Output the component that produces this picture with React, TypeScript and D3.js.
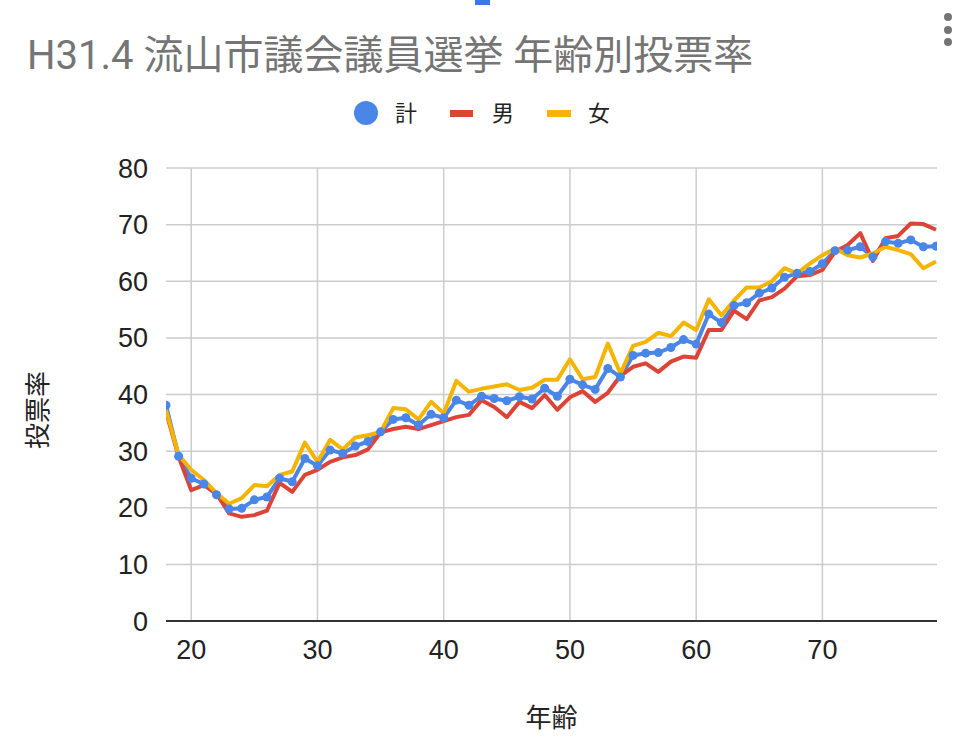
import React, { useEffect, useRef } from "react";
import * as d3 from "d3";

// ages 18..79
const ages: number[] = d3.range(18, 80);

const totalRate: number[] = [
  38.1, 29.1, 25.2, 24.2, 22.3, 19.8, 19.9, 21.4, 21.9, 25.2,
  24.6, 28.7, 27.4, 30.2, 29.6, 30.9, 31.7, 33.4, 35.6, 35.9,
  34.6, 36.5, 35.9, 39.0, 38.1, 39.7, 39.3, 38.9, 39.6, 39.2,
  41.1, 39.7, 42.7, 41.7, 40.9, 44.6, 43.1, 46.9, 47.3, 47.4,
  48.3, 49.7, 48.9, 54.2, 52.7, 55.7, 56.2, 57.9, 58.8, 60.7,
  61.4, 61.7, 63.1, 65.4, 65.5, 66.1, 64.3, 67.0, 66.7, 67.3,
  66.1, 66.2,
];

const maleRate: number[] = [
  37.0, 29.0, 23.1, 24.0, 22.5, 19.0, 18.4, 18.7, 19.5, 24.4,
  22.8, 25.8, 26.7, 28.1, 28.9, 29.3, 30.3, 33.3, 33.9, 34.3,
  33.9, 34.6, 35.3, 36.0, 36.4, 39.0, 37.8, 36.0, 38.7, 37.6,
  39.9, 37.3, 39.5, 40.6, 38.7, 40.3, 43.3, 44.9, 45.5, 44.0,
  45.8, 46.7, 46.5, 51.4, 51.4, 54.8, 53.3, 56.6, 57.2, 58.7,
  60.9, 61.1, 62.0, 65.2, 66.4, 68.5, 63.6, 67.6, 68.0, 70.2,
  70.1, 69.1,
];

const femaleRate: number[] = [
  37.3, 29.3, 26.7, 24.9, 22.6, 20.7, 21.7, 24.0, 23.8, 25.8,
  26.4, 31.5, 28.1, 32.0, 30.3, 32.4, 32.8, 33.4, 37.6, 37.4,
  35.6, 38.7, 36.7, 42.4, 40.5, 41.0, 41.4, 41.8, 40.8, 41.2,
  42.6, 42.6, 46.2, 42.7, 43.1, 49.0, 43.7, 48.6, 49.3, 50.9,
  50.3, 52.7, 51.4, 56.8, 54.0, 56.6, 58.9, 58.9, 60.0, 62.3,
  61.4, 63.1, 64.6, 65.8, 64.6, 64.2, 64.9, 66.1, 65.5, 64.8,
  62.3, 63.5,
];

const xTicks = [20, 30, 40, 50, 60, 70];
const yTicks = [0, 10, 20, 30, 40, 50, 60, 70, 80];

const seriesNames = ["計", "男", "女"];
const colors = ["#4a86e8", "#db4437", "#f4b400"];

const title = "H31.4 流山市議会議員選挙 年齢別投票率";
const xTitle = "年齢";
const yTitle = "投票率";

const FONT = "Roboto, 'Noto Sans CJK JP', sans-serif";
const TICK_FONT = "'Liberation Sans', Arial, 'Noto Sans CJK JP', sans-serif";

const App: React.FC = () => {
  const svgRef = useRef<SVGSVGElement | null>(null);

  useEffect(() => {
    document.body.style.margin = "0";
    if (!svgRef.current) return;

    const width = 968;
    const height = 744;
    const margin = { top: 168, right: 31, bottom: 123, left: 166 };
    const plotW = width - margin.left - margin.right;
    const plotH = height - margin.top - margin.bottom;

    const svg = d3.select(svgRef.current);
    svg.selectAll("*").remove();
    svg.attr("width", width).attr("height", height);

    svg.append("rect").attr("width", width).attr("height", height).attr("fill", "#fff");

    // little handle at the top and the menu dots
    svg.append("rect").attr("x", 475).attr("y", 0).attr("width", 15).attr("height", 5).attr("fill", "#3b78e7");
    svg
      .selectAll("circle.menu")
      .data([17, 30, 42])
      .enter()
      .append("circle")
      .attr("class", "menu")
      .attr("cx", 948)
      .attr("cy", (d) => d)
      .attr("r", 4)
      .attr("fill", "#757575");

    // title
    svg
      .append("text")
      .attr("x", 27)
      .attr("y", 69)
      .attr("font-family", FONT)
      .attr("font-size", 40)
      .attr("fill", "#757575")
      .text(title);

    // legend
    const legend = svg.append("g").attr("font-family", FONT).attr("font-size", 22).attr("fill", "#222");
    legend.append("circle").attr("cx", 366).attr("cy", 113).attr("r", 12).attr("fill", colors[0]);
    legend.append("text").attr("x", 395).attr("y", 121).text(seriesNames[0]);
    legend.append("rect").attr("x", 450).attr("y", 110).attr("width", 23).attr("height", 7).attr("fill", colors[1]);
    legend.append("text").attr("x", 492).attr("y", 121).text(seriesNames[1]);
    legend.append("rect").attr("x", 547).attr("y", 110).attr("width", 24).attr("height", 7).attr("fill", colors[2]);
    legend.append("text").attr("x", 588).attr("y", 121).text(seriesNames[2]);

    const g = svg.append("g").attr("transform", `translate(${margin.left},${margin.top})`);

    const x = d3.scaleLinear().domain([18, 79]).range([0, plotW - 1]);
    const y = d3.scaleLinear().domain([0, 80]).range([plotH, 0]);

    // gridlines
    g.append("g")
      .selectAll("line")
      .data(yTicks.slice(1))
      .enter()
      .append("line")
      .attr("x1", 0)
      .attr("x2", plotW)
      .attr("y1", (d) => y(d))
      .attr("y2", (d) => y(d))
      .attr("stroke", "#cccccc")
      .attr("stroke-width", 1.5);

    g.append("g")
      .selectAll("line")
      .data(xTicks)
      .enter()
      .append("line")
      .attr("x1", (d) => x(d))
      .attr("x2", (d) => x(d))
      .attr("y1", 0)
      .attr("y2", plotH)
      .attr("stroke", "#cccccc")
      .attr("stroke-width", 1.5);

    // tick labels
    g.append("g")
      .selectAll("text")
      .data(yTicks)
      .enter()
      .append("text")
      .attr("x", -18)
      .attr("y", (d) => y(d) + 9.5)
      .attr("text-anchor", "end")
      .attr("font-family", TICK_FONT)
      .attr("font-size", 27)
      .attr("fill", "#222")
      .text((d) => d);

    g.append("g")
      .selectAll("text")
      .data(xTicks)
      .enter()
      .append("text")
      .attr("x", (d) => x(d))
      .attr("y", plotH + 38)
      .attr("text-anchor", "middle")
      .attr("font-family", TICK_FONT)
      .attr("font-size", 27)
      .attr("fill", "#222")
      .text((d) => d);

    // axis titles
    svg
      .append("text")
      .attr("x", margin.left + plotW / 2)
      .attr("y", 727)
      .attr("text-anchor", "middle")
      .attr("font-family", FONT)
      .attr("font-size", 26)
      .attr("fill", "#222")
      .text(xTitle);

    svg
      .append("text")
      .attr("transform", `translate(47,410) rotate(-90)`)
      .attr("text-anchor", "middle")
      .attr("font-family", FONT)
      .attr("font-size", 26)
      .attr("fill", "#222")
      .text(yTitle);

    // clip for lines
    svg
      .append("defs")
      .append("clipPath")
      .attr("id", "plot-clip")
      .append("rect")
      .attr("x", 0)
      .attr("y", -10)
      .attr("width", plotW)
      .attr("height", plotH + 10);

    const plot = g.append("g").attr("clip-path", "url(#plot-clip)");

    const line = d3
      .line<number>()
      .x((_, i) => x(ages[i]))
      .y((d) => y(d));

    [totalRate, maleRate, femaleRate].forEach((values, i) => {
      plot
        .append("path")
        .datum(values)
        .attr("d", line)
        .attr("fill", "none")
        .attr("stroke", colors[i])
        .attr("stroke-width", 4)
        .attr("stroke-linejoin", "round");
    });

    plot
      .selectAll("circle.pt")
      .data(totalRate)
      .enter()
      .append("circle")
      .attr("class", "pt")
      .attr("cx", (_, i) => x(ages[i]))
      .attr("cy", (d) => y(d))
      .attr("r", 4.5)
      .attr("fill", colors[0]);

    // baseline
    g.append("line")
      .attr("x1", 0)
      .attr("x2", plotW)
      .attr("y1", plotH)
      .attr("y2", plotH)
      .attr("stroke", "#333")
      .attr("stroke-width", 2);
  }, []);

  return <svg ref={svgRef}></svg>;
};

export default App;
